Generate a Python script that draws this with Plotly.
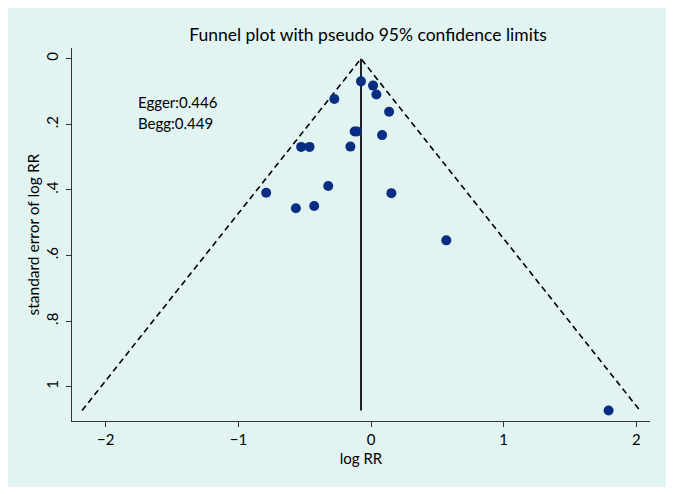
import plotly.graph_objects as go

# Study-level data: log RR and its standard error
log_rr = [-0.076, 0.015, 0.040, 0.136, -0.277, -0.124, -0.106, 0.083, -0.156,
          -0.527, -0.464, -0.791, -0.567, -0.429, -0.323, 0.153, 0.567, 1.791]
se_log_rr = [0.069, 0.082, 0.109, 0.162, 0.123, 0.222, 0.222, 0.233, 0.268,
             0.269, 0.269, 0.409, 0.456, 0.449, 0.388, 0.410, 0.554, 1.073]

pooled = -0.076
se_max = max(se_log_rr)
z = 1.96

x_ticks = [-2, -1, 0, 1, 2]
x_tick_text = ["\u22122", "\u22121", "0", "1", "2"]
y_ticks = [0, 0.2, 0.4, 0.6, 0.8, 1.0]
y_tick_text = ["0", ".2", ".4", ".6", ".8", "1"]

title_text = "Funnel plot with pseudo 95% confidence limits"
x_title = "log RR"
y_title = "standard error of log RR"
notes = ["Egger:0.446", "Begg:0.449"]

FONT = "Lato"
BG = "#e2f4f1"
NAVY = "#0a2d84"

fig = go.Figure()

# Pseudo 95% confidence limits (dashed)
fig.add_trace(go.Scatter(
    x=[pooled - z * se_max, pooled, pooled + z * se_max],
    y=[se_max, 0, se_max],
    mode="lines",
    line=dict(color="black", width=1.6, dash="6px,4px"),
    hoverinfo="skip", showlegend=False,
))
# Pooled estimate line
fig.add_trace(go.Scatter(
    x=[pooled, pooled], y=[0, se_max],
    mode="lines",
    line=dict(color="#222222", width=2),
    hoverinfo="skip", showlegend=False,
))
# Studies
fig.add_trace(go.Scatter(
    x=log_rr, y=se_log_rr,
    mode="markers",
    marker=dict(color=NAVY, size=10, line=dict(width=0)),
    showlegend=False,
))

# Outer light-cyan panel
fig.add_shape(type="rect", xref="paper", yref="paper",
              x0=-0.113, x1=1.0294, y0=-0.177, y1=1.111,
              fillcolor=BG, line=dict(width=0), layer="below")

for txt, yy in zip(notes, [0.131, 0.195]):
    fig.add_annotation(x=-1.77, y=yy, xref="x", yref="y", text=txt,
                       showarrow=False, xanchor="left", yanchor="middle",
                       font=dict(family=FONT, size=15, color="black"))

# y-axis title
fig.add_annotation(x=-0.0675, y=0.5, xref="paper", yref="paper", text=y_title,
                   textangle=-90, showarrow=False, xanchor="center", yanchor="middle",
                   font=dict(family=FONT, size=15.5, color="black"))

fig.update_layout(
    width=666, height=486,
    margin=dict(l=64, r=24, t=40, b=73, autoexpand=False),
    paper_bgcolor="white",
    plot_bgcolor="white",
    font=dict(family=FONT, size=15, color="black"),
    title=dict(text=title_text, x=0.5405, xanchor="center", y=0.944,
               yanchor="middle", font=dict(family=FONT, size=17.5, color="black")),
    xaxis=dict(
        range=[-2.255, 2.103],
        tickvals=x_ticks, ticktext=x_tick_text,
        ticks="outside", ticklen=5, tickcolor="#333333", tickwidth=1,
        showline=True, linecolor="#333333", linewidth=1.3,
        showgrid=False, zeroline=False,
        title=dict(text=x_title, font=dict(family=FONT, size=15), standoff=6),
        tickfont=dict(family=FONT, size=15),
    ),
    yaxis=dict(
        range=[1.105, -0.0327],
        tickvals=y_ticks, ticktext=y_tick_text, tickangle=-90,
        ticks="outside", ticklen=5, tickcolor="#333333", tickwidth=1,
        ticklabelstandoff=2,
        showline=True, linecolor="#333333", linewidth=1.3,
        showgrid=True, gridcolor="#e3f3f0", gridwidth=1,
        zeroline=False,
        tickfont=dict(family=FONT, size=15),
    ),
)

fig.write_html("out.html")
